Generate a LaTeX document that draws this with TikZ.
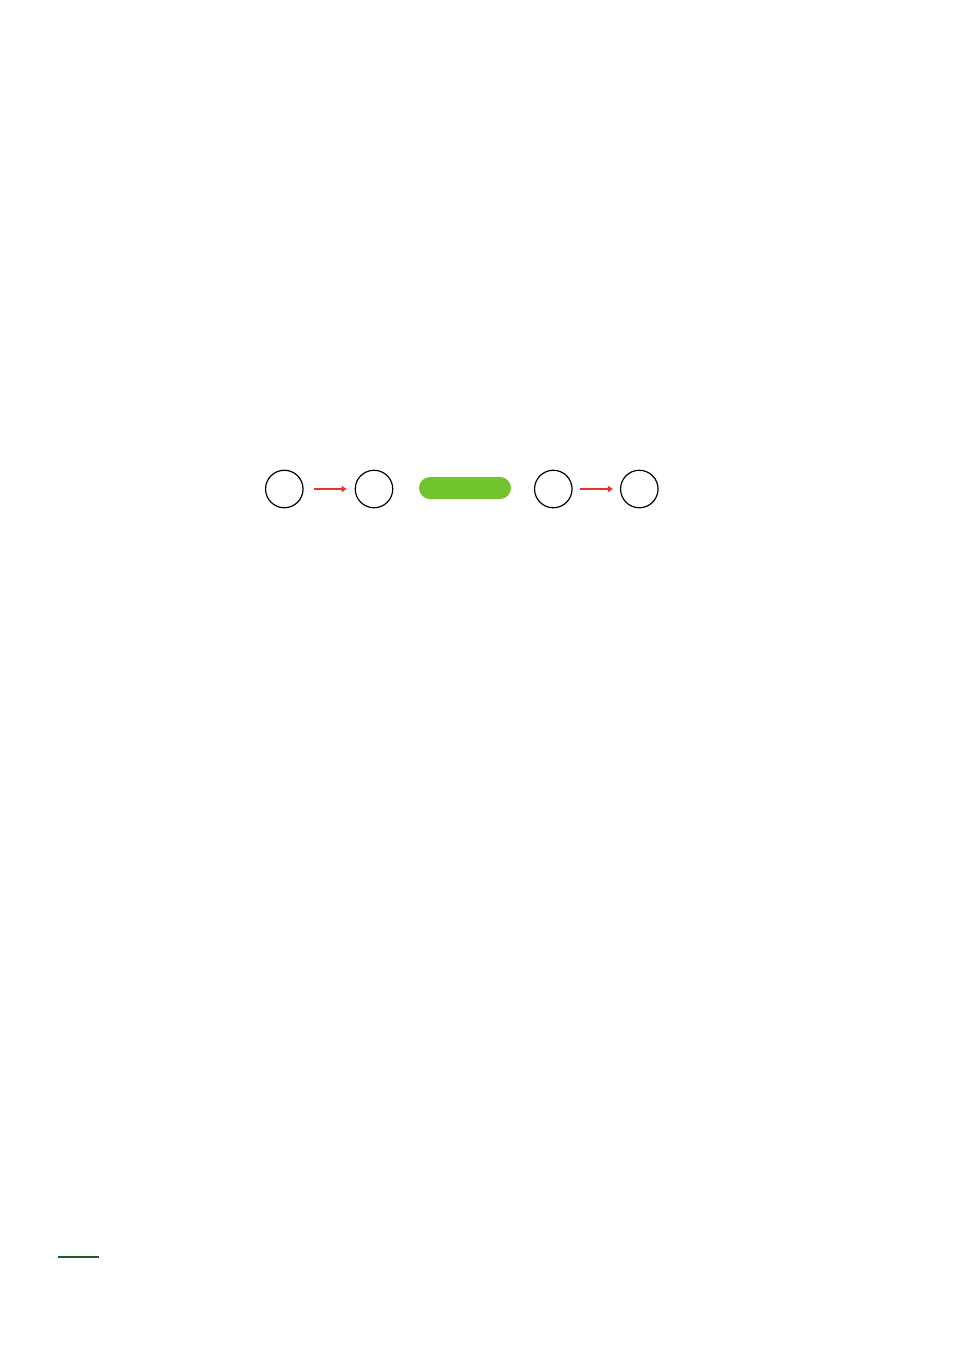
\documentclass[tikz,border=0pt]{standalone}
\usetikzlibrary{arrows.meta}
\definecolor{arrred}{HTML}{E8312A}
\definecolor{pillgreen}{HTML}{72C42F}
\definecolor{lineg}{HTML}{1F5A30}
\tikzset{
  ring/.style={circle,draw=black,line width=1.2pt,minimum size=37.5pt,inner sep=0pt},
  redarrow/.style={draw=arrred,line width=2.5pt,-{Triangle[length=5pt,width=6pt]},shorten >=8pt},
  pill/.style={rounded corners=11pt,fill=pillgreen,draw=none,minimum width=92pt,minimum height=22pt,inner sep=0pt}
}
\begin{document}
\begin{tikzpicture}[x=1pt,y=-1pt]
\useasboundingbox (0,0) rectangle (954,1350);
\node[ring] (c1) at (284.3,489) {};
\node[ring] (c2) at (374,489) {};
\node[pill] (p) at (465,488) {};
\node[ring] (c3) at (553.3,489) {};
\node[ring] (c4) at (639.3,489) {};
\draw[redarrow,shorten <=10pt] (c1) -- (c2);
\draw[redarrow,shorten <=7pt,shorten >=7pt] (c3) -- (c4);
\coordinate (l1) at (58,1257);
\coordinate (l2) at (99,1257);
\draw[lineg,line width=2pt] (l1) -- (l2);
\end{tikzpicture}
\end{document}
